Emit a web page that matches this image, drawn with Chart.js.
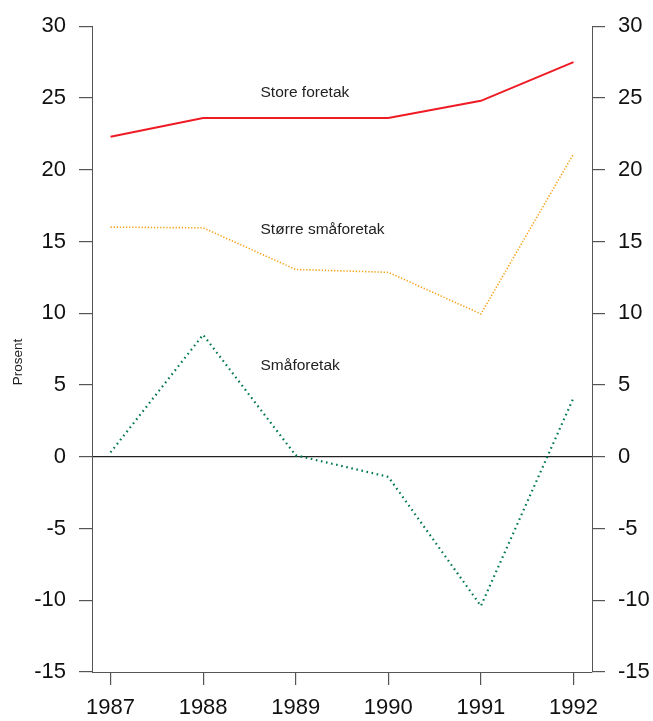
<!DOCTYPE html>
<html>
<head>
<meta charset="utf-8">
<script src="https://cdn.jsdelivr.net/npm/chart.js@4"></script>
<style>
  html, body { margin: 0; padding: 0; background: #fff; }
  #wrap { width: 653px; height: 721px; position: relative; }
</style>
</head>
<body>
<div id="wrap"><canvas id="chart"></canvas></div>
<script>
// ===== data =====
const years = [1987, 1988, 1989, 1990, 1991, 1992];
const storeForetak = [22.3, 23.6, 23.6, 23.6, 24.8, 27.5];
const storreSmaforetak = [16.0, 15.95, 13.05, 12.85, 9.95, 21.1];
const smaforetak = [0.3, 8.5, 0.1, -1.4, -10.4, 4.1];
const yTicks = [-15, -10, -5, 0, 5, 10, 15, 20, 25, 30];
const seriesNames = ["Store foretak", "Større småforetak", "Småforetak"];
const yTitle = "Prosent";

const axisColor = "#555";
const font = "'Liberation Sans', Arial, sans-serif";

function pairs(vals) {
  return years.map((y, i) => ({ x: y, y: vals[i] }));
}

// text labels next to the lines, placed in data units
const labelAt = [[1988.62, 25.35], [1988.62, 15.85], [1988.62, 6.35]];

const textPlugin = {
  id: "textPlugin",
  afterDraw(chart) {
    const c = chart.ctx;
    const xs = chart.scales.x, ys = chart.scales.y;
    c.save();
    c.fillStyle = "#222";
    c.font = "15.5px " + font;
    c.textAlign = "left";
    c.textBaseline = "middle";
    seriesNames.forEach((name, i) => {
      c.fillText(name, xs.getPixelForValue(labelAt[i][0]), ys.getPixelForValue(labelAt[i][1]));
    });
    // y title
    c.translate(18, ys.getPixelForValue(6.6));
    c.rotate(-Math.PI / 2);
    c.textAlign = "center";
    c.font = "13.5px " + font;
    c.fillText(yTitle, 0, 0);
    c.restore();
  }
};

function yScale(pos, width, onArea) {
  return {
    type: "linear",
    position: pos,
    min: -15,
    max: 30,
    afterFit: s => { s.width = width; },
    afterBuildTicks: s => { s.ticks = yTicks.map(v => ({ value: v })); },
    border: { display: true, color: axisColor, width: 1 },
    grid: {
      drawOnChartArea: onArea,
      drawTicks: true,
      tickLength: 13,
      tickColor: axisColor,
      color: ctx => (ctx.tick && ctx.tick.value === 0) ? "#222" : "rgba(0,0,0,0)",
      lineWidth: 1.2
    },
    ticks: {
      color: "#111",
      padding: 13,
      font: { family: font, size: 22 }
    }
  };
}

new Chart(document.getElementById("chart"), {
  type: "line",
  data: {
    datasets: [
      {
        label: seriesNames[0],
        data: pairs(storeForetak),
        borderColor: "#ee1b24",
        borderWidth: 2,
        pointRadius: 0,
        tension: 0
      },
      {
        label: seriesNames[1],
        data: pairs(storreSmaforetak),
        borderColor: "#f5a31a",
        borderWidth: 1.6,
        borderDash: [1.3, 1.8],
        pointRadius: 0,
        tension: 0
      },
      {
        label: seriesNames[2],
        data: pairs(smaforetak),
        borderColor: "#007a4a",
        borderWidth: 2.2,
        borderDash: [1.6, 3.6],
        pointRadius: 0,
        tension: 0
      }
    ]
  },
  options: {
    responsive: true,
    maintainAspectRatio: false,
    animation: false,
    layout: { padding: { top: 24, left: 0, right: 0, bottom: 0 } },
    plugins: {
      legend: { display: false },
      tooltip: { enabled: false }
    },
    scales: {
      x: {
        type: "linear",
        min: 1986.8,
        max: 1992.2,
        afterFit: s => { s.height = 49; },
        afterBuildTicks: s => { s.ticks = years.map(v => ({ value: v })); },
        border: { display: true, color: axisColor, width: 1 },
        grid: {
          drawOnChartArea: false,
          drawTicks: true,
          tickLength: 13,
          color: axisColor,
          lineWidth: 1.2
        },
        ticks: {
          color: "#111",
          padding: 10,
          maxRotation: 0,
          font: { family: font, size: 22 },
          callback: v => String(v)
        }
      },
      y: yScale("left", 92, true),
      y2: yScale("right", 61, false)
    }
  },
  plugins: [textPlugin]
});
</script>
</body>
</html>
